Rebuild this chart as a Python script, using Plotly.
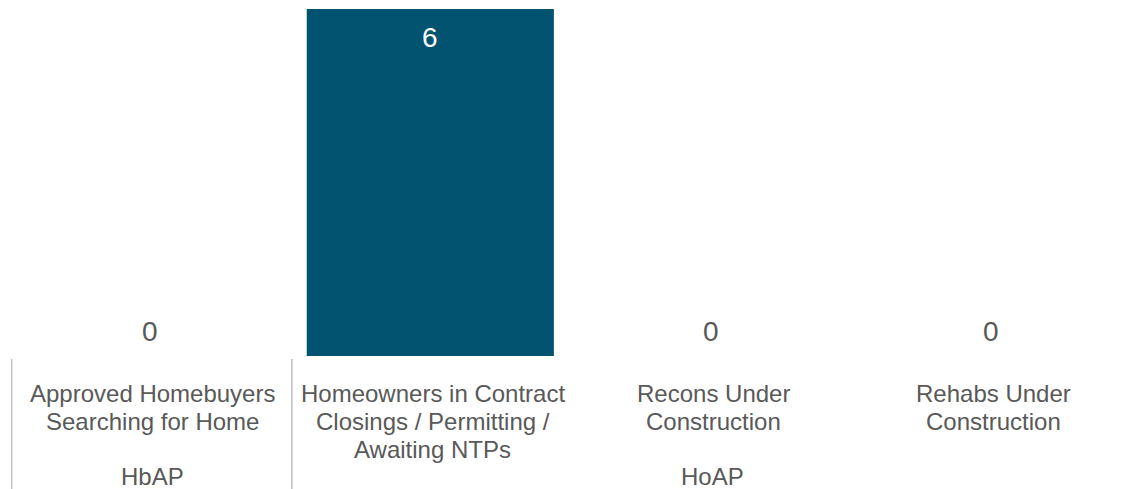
import plotly.graph_objects as go

categories = ["Approved Homebuyers<br>Searching for Home",
              "Homeowners in Contract<br>Closings / Permitting /<br>Awaiting NTPs",
              "Recons Under<br>Construction",
              "Rehabs Under<br>Construction"]
groups = ["HbAP", "HoAP", "HoAP", "HoAP"]
values = [0, 6, 0, 0]

BAR = "#02536F"
TXT = "#595959"
LINE = "#BFBFBF"
FONT = "Liberation Sans, Arial, sans-serif"

xs = list(range(len(categories)))
fig = go.Figure(go.Bar(x=xs, y=values, marker_color=BAR, marker_line_width=0,
                       width=0.882, hoverinfo="skip"))

ann = []
for i, (c, v) in enumerate(zip(categories, values)):
    for k, line in enumerate(c.split("<br>")):
        ann.append(dict(x=i, y=0, xref="x", yref="paper", text=line, showarrow=False,
                        yanchor="middle", yshift=-37 - 28 * k, xshift=2.5,
                        font=dict(size=24, color=TXT, family=FONT)))
    if v > 0:
        ann.append(dict(x=i, y=v, xref="x", yref="y", text=str(v), showarrow=False,
                        yanchor="middle", yshift=-28, font=dict(size=28, color="white", family=FONT)))
    else:
        ann.append(dict(x=i, y=v, xref="x", yref="y", text=str(v), showarrow=False,
                        yanchor="middle", yshift=25, font=dict(size=28, color=TXT, family=FONT)))

# group labels and dividers
shapes = []
order = []
for i, g in enumerate(groups):
    if not order or order[-1][0] != g:
        order.append([g, i, i])
    else:
        order[-1][2] = i
for g, s, e in order:
    ann.append(dict(x=(s + e) / 2, y=0, xref="x", yref="paper", text=g, showarrow=False,
                    yanchor="middle", yshift=-120, xshift=2,
                    font=dict(size=24, color=TXT, family=FONT)))
bounds = [s - 0.5 for g, s, e in order] + [order[-1][2] + 0.5]
for b in bounds:
    shapes.append(dict(type="line", xref="x", yref="paper", x0=b + 0.006, x1=b + 0.006,
                       ysizemode="pixel", yanchor=0, y0=-3, y1=-145,
                       line=dict(color=LINE, width=1.5)))

fig.update_layout(
    width=1122, height=489,
    margin=dict(l=2, r=0, t=1, b=141),
    paper_bgcolor="white", plot_bgcolor="white",
    showlegend=False,
    xaxis=dict(range=[-0.5, 3.497], showticklabels=False, showgrid=False,
               zeroline=False, showline=False, fixedrange=True),
    yaxis=dict(range=[0, 6], visible=False, showgrid=False, zeroline=False, fixedrange=True),
    annotations=ann, shapes=shapes,
)
fig.write_html("out.html")
